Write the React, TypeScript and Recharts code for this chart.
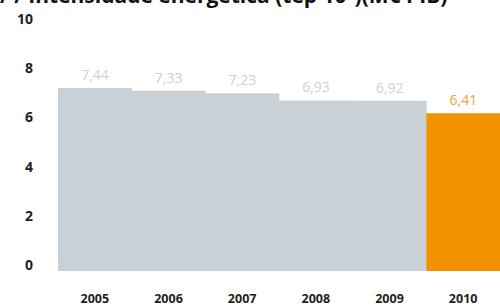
import React from "react";
import { BarChart, Bar, XAxis, YAxis, Cell, LabelList } from "recharts";

const years = ["2005", "2006", "2007", "2008", "2009", "2010"];
const values = [7.44, 7.33, 7.23, 6.93, 6.92, 6.41];
const yTicks = [0, 2, 4, 6, 8, 10];
const title = "/ / Intensidade energética (tep 10⁶)(M€ PIB)";

const GREY = "#c9d0d6";
const ORANGE = "#f39200";
const FONT = "'Open Sans', 'DejaVu Sans', sans-serif";

const data = years.map((y, i) => ({ year: y, value: values[i] }));

const YTick = (props: any) => {
  const { y, payload } = props;
  return (
    <text x={33} y={y - 6} dy="0.35em" textAnchor="end" fontFamily={FONT} fontWeight={700} fontSize={14} fill="#1e1e1e">
      {payload.value}
    </text>
  );
};

const XTick = (props: any) => {
  const { x, y, payload } = props;
  return (
    <text x={x} y={y + 20} dy="0.35em" textAnchor="middle" fontFamily={FONT} fontWeight={700} fontSize={12.5} fill="#1e1e1e">
      {payload.value}
    </text>
  );
};

const ValueLabel = (props: any) => {
  const { x, y, width, value, index } = props;
  const last = index === values.length - 1;
  return (
    <text x={x + width / 2} y={y - 13} dy="0.35em" textAnchor="middle" fontFamily={FONT} fontWeight={400} fontSize={14} fill={last ? "#f0a23a" : "#cdd2d7"}>
      {String(value).replace(".", ",")}
    </text>
  );
};

export default function App() {
  return (
    <div style={{ position: "absolute", left: 0, top: 0, width: 500, height: 308, overflow: "hidden", background: "#fff" }}>
      <div style={{ position: "absolute", left: 0, top: -15, whiteSpace: "nowrap", fontFamily: FONT, fontWeight: 700, fontSize: 21, lineHeight: "21px", color: "#111" }}>
        {title}
      </div>
      <BarChart width={500} height={308} data={data} margin={{ top: 25, right: 0, left: 0, bottom: 0 }} barCategoryGap={0}>
        <XAxis dataKey="year" axisLine={false} tickLine={false} height={37} tick={<XTick />} interval={0} />
        <YAxis domain={[0, 10]} ticks={yTicks} axisLine={false} tickLine={false} width={58} tick={<YTick />} interval={0} />
        <Bar dataKey="value" isAnimationActive={false}>
          {data.map((d, i) => (
            <Cell key={d.year} fill={i === data.length - 1 ? ORANGE : GREY} />
          ))}
          <LabelList dataKey="value" content={<ValueLabel />} />
        </Bar>
      </BarChart>
    </div>
  );
}
